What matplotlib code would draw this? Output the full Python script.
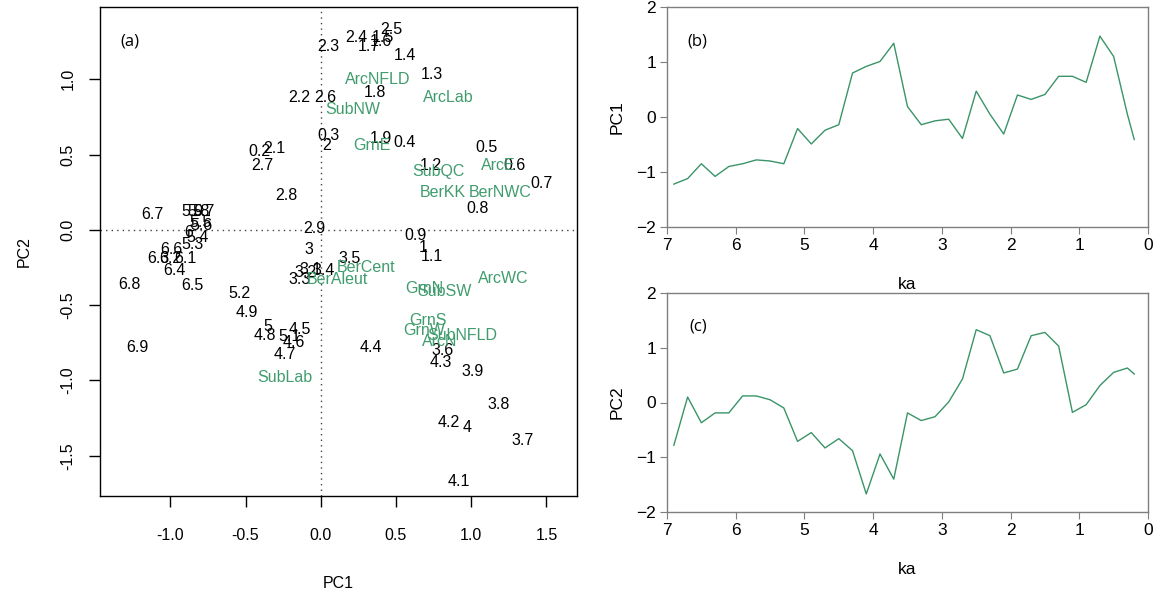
import matplotlib
matplotlib.use("Agg")
import matplotlib.pyplot as plt

plt.rcParams['font.family'] = ['Liberation Sans', 'DejaVu Sans']

# sample ages (ka) and their scores on the first two PCs
ages = [0.2, 0.3, 0.4, 0.5, 0.6, 0.7, 0.8, 0.9, 1.0, 1.1,
        1.2, 1.3, 1.4, 1.5, 1.6, 1.7, 1.8, 1.9, 2.0, 2.1,
        2.2, 2.3, 2.4, 2.5, 2.6, 2.7, 2.8, 2.9, 3.0, 3.1,
        3.2, 3.3, 3.4, 3.5, 3.6, 3.7, 3.8, 3.9, 4.0, 4.1,
        4.2, 4.3, 4.4, 4.5, 4.6, 4.7, 4.8, 4.9, 5.0, 5.1,
        5.2, 5.3, 5.4, 5.5, 5.6, 5.7, 5.8, 5.9, 6.0, 6.1,
        6.2, 6.3, 6.4, 6.5, 6.6, 6.7, 6.8, 6.9]
pc1 = [-0.41, 0.05, 0.56, 1.10, 1.29, 1.47, 1.04, 0.63, 0.68, 0.74,
       0.73, 0.74, 0.56, 0.41, 0.40, 0.32, 0.36, 0.40, 0.04, -0.31,
       -0.14, 0.05, 0.24, 0.47, 0.03, -0.39, -0.23, -0.04, -0.08, -0.07,
       -0.10, -0.14, 0.02, 0.19, 0.81, 1.34, 1.18, 1.01, 0.97, 0.92,
       0.85, 0.80, 0.33, -0.14, -0.18, -0.24, -0.37, -0.49, -0.35, -0.21,
       -0.54, -0.85, -0.82, -0.80, -0.79, -0.78, -0.81, -0.85, -0.88, -0.90,
       -1.00, -1.08, -0.97, -0.85, -0.99, -1.12, -1.27, -1.22]
pc2 = [0.52, 0.63, 0.58, 0.55, 0.43, 0.31, 0.14, -0.04, -0.12, -0.18,
       0.43, 1.03, 1.16, 1.28, 1.25, 1.22, 0.91, 0.61, 0.56, 0.54,
       0.88, 1.22, 1.28, 1.33, 0.88, 0.43, 0.23, 0.01, -0.13, -0.26,
       -0.28, -0.33, -0.27, -0.19, -0.80, -1.40, -1.16, -0.94, -1.31, -1.67,
       -1.28, -0.88, -0.78, -0.66, -0.75, -0.83, -0.70, -0.55, -0.64, -0.71,
       -0.42, -0.10, -0.05, 0.05, 0.03, 0.12, 0.12, 0.12, -0.02, -0.19,
       -0.19, -0.19, -0.27, -0.37, -0.13, 0.10, -0.36, -0.78]

# ages used for the time series panels
series_ages = [6.9, 6.7, 6.5, 6.3, 6.1, 5.9, 5.7, 5.5, 5.3, 5.1,
               4.9, 4.7, 4.5, 4.3, 4.1, 3.9, 3.7, 3.5, 3.3, 3.1,
               2.9, 2.7, 2.5, 2.3, 2.1, 1.9, 1.7, 1.5, 1.3, 1.1,
               0.9, 0.7, 0.5, 0.3, 0.2]

# taxa loadings (scaled)
taxa = ['ArcNFLD', 'ArcLab', 'SubNW', 'GrnE', 'SubQC', 'ArcE', 'BerKK',
        'BerNWC', 'BerCent', 'BerAleut', 'ArcWC', 'GrnN', 'SubSW', 'GrnS',
        'GrnW', 'SubNFLD', 'ArcN', 'SubLab']
taxa_x = [0.38, 0.85, 0.21, 0.34, 0.78, 1.18, 0.81,
          1.19, 0.30, 0.11, 1.21, 0.69, 0.82, 0.71,
          0.69, 0.94, 0.79, -0.24]
taxa_y = [1.00, 0.88, 0.80, 0.56, 0.39, 0.43, 0.25,
          0.25, -0.25, -0.33, -0.32, -0.39, -0.41, -0.60,
          -0.67, -0.70, -0.74, -0.98]

green = '#409c6d'
line_green = '#3a9468'
W, H = 1156, 596

fig = plt.figure(figsize=(W / 100, H / 100), dpi=100)

# ---- (a) biplot ----
ax = fig.add_axes([100 / W, 1 - 496 / H, 477 / W, 489 / H])
ax.set_xlim(-1.467, 1.703)
ax.set_ylim(-1.767, 1.480)
ax.axvline(0, color='#444444', lw=1, ls=(0, (1, 3)))
ax.axhline(0, color='#444444', lw=1, ls=(0, (1, 3)))
for a, x, y in zip(ages, pc1, pc2):
    ax.text(x, y, f"{a:g}", ha='center', va='center', fontsize=11.5, color='black')
for name, x, y in zip(taxa, taxa_x, taxa_y):
    ax.text(x, y, name, ha='center', va='center', fontsize=11.5, color=green)
ax.set_xticks([-1.0, -0.5, 0.0, 0.5, 1.0, 1.5])
ax.set_yticks([-1.5, -1.0, -0.5, 0.0, 0.5, 1.0])
ax.set_xticklabels(['-1.0', '-0.5', '0.0', '0.5', '1.0', '1.5'])
ax.set_yticklabels(['-1.5', '-1.0', '-0.5', '0.0', '0.5', '1.0'],
                   rotation=90, va='center')
ax.tick_params(length=8, width=1, labelsize=11.5)
ax.tick_params(axis='x', pad=15)
ax.tick_params(axis='y', pad=9.5)
for s in ax.spines.values():
    s.set_linewidth(1)
ax.set_xlabel('PC1', fontsize=11.5, labelpad=24)
ax.set_ylabel('PC2', fontsize=11.5, labelpad=21)
ax.text(0.062, 0.93, '(a)', transform=ax.transAxes, fontsize=12,
        family='Open Sans', ha='center', va='center')

# ---- (b) and (c) time series ----
lookup1 = dict(zip(ages, pc1))
lookup2 = dict(zip(ages, pc2))
series1 = [lookup1[a] for a in series_ages]
series2 = [lookup2[a] for a in series_ages]

boxes = [(7, 227), (293, 512)]
for (top, bot), vals, lab, tag in zip(boxes, [series1, series2],
                                      ['PC1', 'PC2'], ['(b)', '(c)']):
    bx = fig.add_axes([667 / W, 1 - bot / H, 481 / W, (bot - top) / H])
    bx.plot(series_ages, vals, color=line_green, lw=1)
    bx.set_xlim(7, 0)
    bx.set_ylim(-2, 2)
    bx.set_xticks(range(7, -1, -1))
    bx.set_yticks([-2, -1, 0, 1, 2])
    for s in bx.spines.values():
        s.set_color('#7f7f7f')
        s.set_linewidth(1)
    bx.tick_params(length=5, color='#7f7f7f', labelsize=12.5, pad=3)
    bx.set_xlabel('ka', fontsize=12.5, labelpad=17)
    bx.set_ylabel(lab, fontsize=12.5, labelpad=8)
    bx.text(0.064, 0.845, tag, transform=bx.transAxes, fontsize=12,
            family='Open Sans', ha='center', va='center')

fig.savefig('out.png', dpi=100)
